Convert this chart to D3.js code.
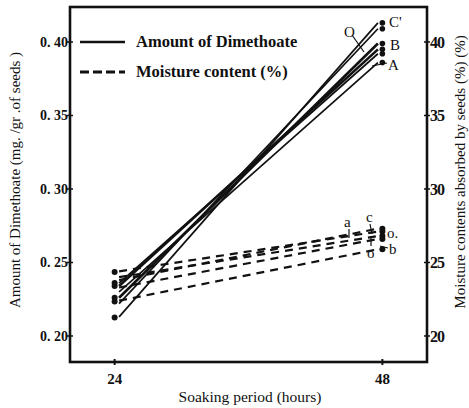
<!DOCTYPE html>
<html>
<head>
<meta charset="utf-8">
<script src="https://cdn.jsdelivr.net/npm/d3@7"></script>
<style>
  body { margin: 0; background: #fff; }
</style>
</head>
<body>
<div id="chart"></div>
<script>
// soaking period (hours)
var hours = [24, 48];

// Dimethoate (mg/gr of seeds), one pair of values per treatment
var dimeNames = ["C'", "O", "B", "", "", "A"];
var dime24    = [0.213, 0.222, 0.226, 0.234, 0.236, 0.230];
var dime48    = [0.413, 0.409, 0.399, 0.395, 0.392, 0.386];

// Moisture content (%)
var moistNames = ["a", "c", "o.", "o", "b"];
var moist24    = [24.4, 23.8, 24.0, 23.3, 22.4];
var moist48    = [27.1, 27.3, 26.8, 26.6, 25.9];

// dots at 24 h (read in mg/gr)
var dots24 = [0.2435, 0.236, 0.234, 0.226, 0.2235, 0.2125];

var leftTicks  = [0.20, 0.25, 0.30, 0.35, 0.40];
var rightTicks = [20, 25, 30, 35, 40];

var W = 469, H = 408;
var svg = d3.select("#chart").append("svg").attr("width", W).attr("height", H)
  .attr("font-family", "'Liberation Serif', 'DejaVu Serif', serif").attr("fill", "#111");

var x = d3.scaleLinear().domain([20, 52]).range([70, 427]);
var y = d3.scaleLinear().domain([0.1823, 0.4238]).range([362, 7]);
var y2 = d3.scaleLinear().domain([18.23, 42.38]).range([362, 7]);

// frame
svg.append("rect").attr("x", 70).attr("y", 7).attr("width", 357).attr("height", 355)
  .attr("fill", "none").attr("stroke", "#111").attr("stroke-width", 2.6);

// left axis ticks + labels
leftTicks.forEach(function(t) {
  svg.append("line").attr("x1", 67).attr("x2", 73).attr("y1", y(t)).attr("y2", y(t))
    .attr("stroke", "#111").attr("stroke-width", 1.5);
  svg.append("text").attr("x", 68).attr("y", y(t) + 5).attr("text-anchor", "end")
    .attr("font-size", 14).attr("font-weight", "bold").text(d3.format(".2f")(t).replace(".", ". "));
});

// right axis ticks + labels
rightTicks.forEach(function(t) {
  svg.append("line").attr("x1", 424).attr("x2", 430).attr("y1", y2(t)).attr("y2", y2(t))
    .attr("stroke", "#111").attr("stroke-width", 1.5);
  svg.append("text").attr("x", 430).attr("y", y2(t) + 6)
    .attr("font-size", 16).attr("font-weight", "bold").attr("letter-spacing", -1).text(t);
});

// bottom ticks + labels
hours.forEach(function(h) {
  svg.append("line").attr("x1", x(h)).attr("x2", x(h)).attr("y1", 359).attr("y2", 365)
    .attr("stroke", "#111").attr("stroke-width", 2);
  svg.append("text").attr("x", x(h)).attr("y", 384).attr("text-anchor", "middle")
    .attr("font-size", 15).attr("font-weight", "bold").text(h);
});

// axis titles
svg.append("text").attr("x", 250).attr("y", 402).attr("text-anchor", "middle")
  .attr("font-size", 15.5).text("Soaking period (hours)");
svg.append("text").attr("transform", "translate(20,180) rotate(-90)").attr("text-anchor", "middle")
  .attr("font-size", 15).text("Amount of Dimethoate (mg. /gr .of seeds )");
svg.append("text").attr("transform", "translate(465,172) rotate(-90)").attr("text-anchor", "middle")
  .attr("font-size", 15).text("Moisture contents absorbed by seeds (%) (%)");

// legend
svg.append("line").attr("x1", 80).attr("x2", 125).attr("y1", 42).attr("y2", 42)
  .attr("stroke", "#111").attr("stroke-width", 2.5);
svg.append("text").attr("x", 136).attr("y", 47).attr("font-size", 16.5).attr("font-weight", "bold")
  .text("Amount of Dimethoate");
svg.append("line").attr("x1", 80).attr("x2", 125).attr("y1", 72).attr("y2", 72)
  .attr("stroke", "#111").attr("stroke-width", 3.2).attr("stroke-dasharray", "9,4");
svg.append("text").attr("x", 136).attr("y", 77).attr("font-size", 16.5).attr("font-weight", "bold")
  .text("Moisture content (%)");

// dimethoate lines
var line = d3.line().x(function(d) { return x(d[0]); }).y(function(d) { return d[1]; });
dime24.forEach(function(v, i) {
  svg.append("path")
    .attr("d", line([[24.4, y(v)], [47.6, y(dime48[i])]]))
    .attr("stroke", "#111").attr("stroke-width", i == 2 || i == 3 ? 2.6 : 1.7).attr("fill", "none");
  svg.append("circle").attr("cx", x(48)).attr("cy", y(dime48[i])).attr("r", 2.8).attr("fill", "#111");
});

// moisture lines
moist24.forEach(function(v, i) {
  svg.append("path")
    .attr("d", line([[24.4, y2(v)], [47.6, y2(moist48[i])]]))
    .attr("stroke", "#111").attr("stroke-width", 2.2).attr("stroke-dasharray", "8,6").attr("fill", "none");
  svg.append("circle").attr("cx", x(48)).attr("cy", y2(moist48[i])).attr("r", 3).attr("fill", "#111");
});

// dots at 24 h
dots24.forEach(function(v) {
  svg.append("circle").attr("cx", x(24)).attr("cy", y(v)).attr("r", 3).attr("fill", "#111");
});

// series labels
var labs = [
  ["C'", 389, 27], ["O", 344, 37], ["B", 390, 50], ["A", 388, 70],
  ["a", 344, 227], ["c", 366, 222], ["o.", 387, 238], ["o", 367, 258], ["b", 389, 254]
];
labs.forEach(function(l) {
  svg.append("text").attr("x", l[1]).attr("y", l[2]).attr("font-size", 15).text(l[0]);
});
// leader marks
svg.append("path").attr("d", "M352,35 L364,52").attr("stroke", "#111").attr("stroke-width", 1.2).attr("fill", "none");
svg.append("path").attr("d", "M387,63 L372,66").attr("stroke", "#111").attr("stroke-width", 1.2).attr("fill", "none");
svg.append("path").attr("d", "M349,229 L349,238").attr("stroke", "#111").attr("stroke-width", 1.2).attr("fill", "none");
svg.append("path").attr("d", "M370,224 L372,234").attr("stroke", "#111").attr("stroke-width", 1.2).attr("fill", "none");
svg.append("path").attr("d", "M371,246 L371,238").attr("stroke", "#111").attr("stroke-width", 1.2).attr("fill", "none");
svg.append("path").attr("d", "M388,248 L380,246").attr("stroke", "#111").attr("stroke-width", 1.2).attr("fill", "none");
</script>
</body>
</html>
